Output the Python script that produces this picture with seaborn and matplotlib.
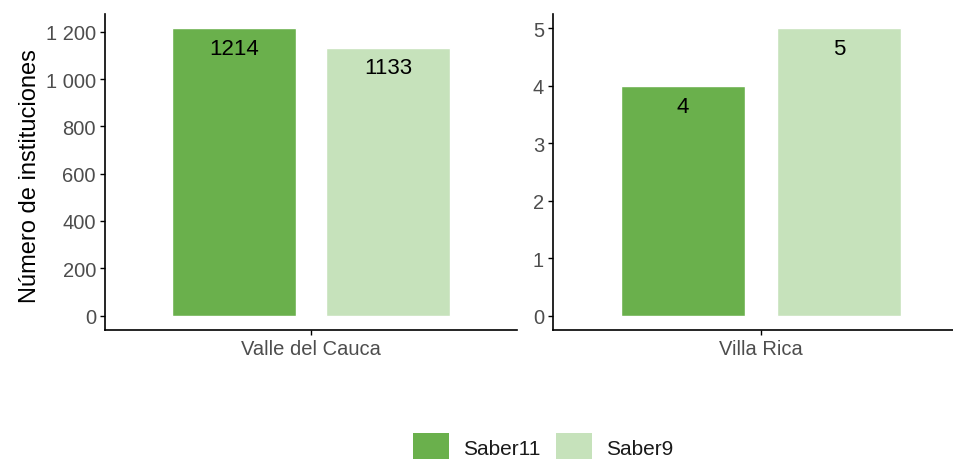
import matplotlib
matplotlib.use("Agg")
import matplotlib.pyplot as plt
from matplotlib.ticker import FuncFormatter, FixedLocator
from matplotlib.patches import Patch
import seaborn as sns
import pandas as pd

regiones = ["Valle del Cauca", "Villa Rica"]
pruebas = ["Saber11", "Saber9"]
saber11 = [1214, 4]
saber9 = [1133, 5]
yticks_valle = [0, 200, 400, 600, 800, 1000, 1200]
yticks_villa = [0, 1, 2, 3, 4, 5]
colores = {"Saber11": "#6AB04C", "Saber9": "#C6E2BB"}

rows = []
for i, r in enumerate(regiones):
    rows.append({"region": r, "prueba": "Saber11", "n": saber11[i]})
    rows.append({"region": r, "prueba": "Saber9", "n": saber9[i]})
df = pd.DataFrame(rows)

sns.set_style("ticks")
plt.rcParams["font.family"] = ["Liberation Sans", "DejaVu Sans"]

W, H = 954, 460
fig = plt.figure(figsize=(W / 100, H / 100), dpi=100)

def axes_px(x0, x1, y0, y1):
    return fig.add_axes([x0 / W, 1 - y1 / H, (x1 - x0) / W, (y1 - y0) / H])

ax1 = axes_px(105, 517, 15, 331)
ax2 = axes_px(553, 969, 15, 331)

fmt = FuncFormatter(lambda v, p: f"{int(round(v)):,}".replace(",", " "))

for ax, reg, ticks in [(ax1, regiones[0], yticks_valle), (ax2, regiones[1], yticks_villa)]:
    sub = df[df["region"] == reg]
    sns.barplot(data=sub, x="region", y="n", hue="prueba", hue_order=pruebas,
                palette=colores, width=0.9, gap=0.2, saturation=1,
                ax=ax, legend=False)
    ymax = sub["n"].max()
    ax.set_ylim(-0.05 * ymax, 1.05 * ymax)
    ax.set_xlim(-0.6, 0.6)
    ax.yaxis.set_major_locator(FixedLocator(ticks))
    ax.yaxis.set_major_formatter(fmt)
    for cont in ax.containers:
        for bar, val in zip(cont, cont.datavalues):
            ax.annotate(f"{int(val)}", (bar.get_x() + bar.get_width() / 2, val),
                        xytext=(0, -7), textcoords="offset points",
                        ha="center", va="top", fontsize=16, color="black")
    ax.set_xlabel("")
    ax.set_ylabel("")
    for s in ["top", "right"]:
        ax.spines[s].set_visible(False)
    for s in ["left", "bottom"]:
        ax.spines[s].set_color("black")
        ax.spines[s].set_linewidth(1.2)
    ax.tick_params(axis="both", colors="black", length=3.5, width=1.0,
                   labelsize=14.5, labelcolor="#4D4D4D", pad=3)

ax1.set_ylabel("Número de instituciones", fontsize=17, color="black")
ax1.yaxis.set_label_coords(-0.155, 0.49)

handles = [Patch(facecolor=colores[p], edgecolor="none", label=p) for p in pruebas]
fig.legend(handles=handles, loc="center", bbox_to_anchor=(543 / W, 1 - 448 / H),
           ncol=2, frameon=False, fontsize=15, handlelength=1.73, handleheight=1.73,
           handletextpad=0.67, columnspacing=0.77, labelcolor="#1A1A1A")

fig.savefig("out.png", dpi=100)
